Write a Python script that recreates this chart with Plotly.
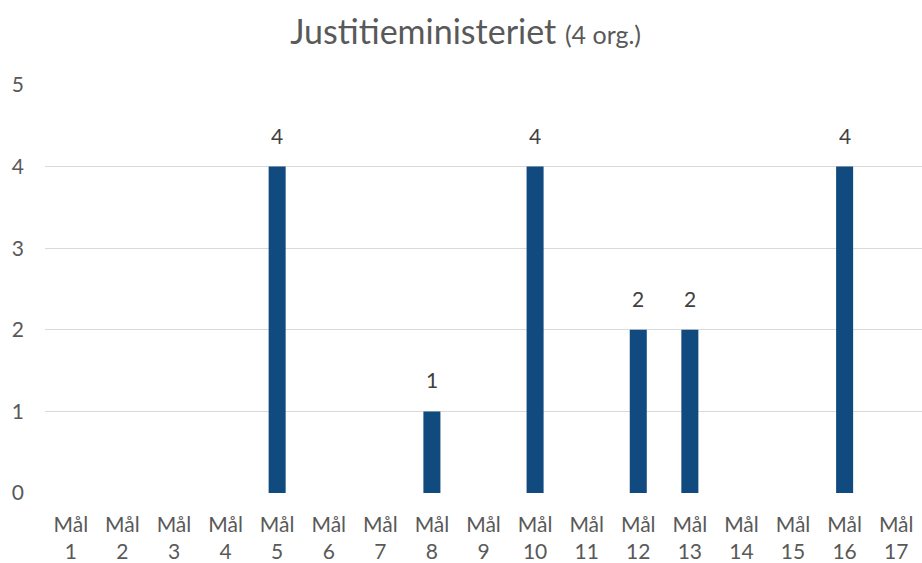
import plotly.graph_objects as go

categories = [f"Mål<br>{i}" for i in range(1, 18)]
values = [0, 0, 0, 0, 4, 0, 0, 1, 0, 4, 0, 2, 2, 0, 0, 4, 0]
labels = [str(v) if v > 0 else "" for v in values]
y_ticks = [0, 1, 2, 3, 4, 5]

fig = go.Figure(go.Bar(
    x=categories, y=values,
    marker=dict(color="#104A7F", line=dict(width=0)),
    width=0.33,
))

for c, v, t in zip(categories, values, labels):
    if t:
        fig.add_annotation(x=c, y=v, text=t, showarrow=False, yanchor="bottom",
                           yshift=17, font=dict(size=21, color="#404040", family="Lato"))

fig.update_layout(
    width=922, height=563,
    margin=dict(l=45, r=0, t=85, b=70),
    paper_bgcolor="white", plot_bgcolor="white",
    title=dict(
        text="Justitieministeriet <span style='font-size:25px'>(4 org.)</span>",
        x=0.505, xanchor="center", y=0.943, yanchor="middle",
        font=dict(size=34, color="#595959", family="Lato"),
    ),
    font=dict(family="Lato", color="#595959", size=22),
    showlegend=False,
)
fig.update_yaxes(range=[0, 5], tickvals=y_ticks, showgrid=True, gridcolor="#D9D9D9",
                 gridwidth=1.3, zeroline=False, showline=False, ticks="",
                 automargin=False, ticklabelstandoff=20,
                 tickfont=dict(size=21, color="#595959"))
fig.update_xaxes(showline=False, ticks="", automargin=False,
                 tickfont=dict(size=21, color="#595959"), ticklabelstandoff=17)

fig.write_html("out.html", config={"displayModeBar": False},
               post_script="document.body.style.margin='0';")
